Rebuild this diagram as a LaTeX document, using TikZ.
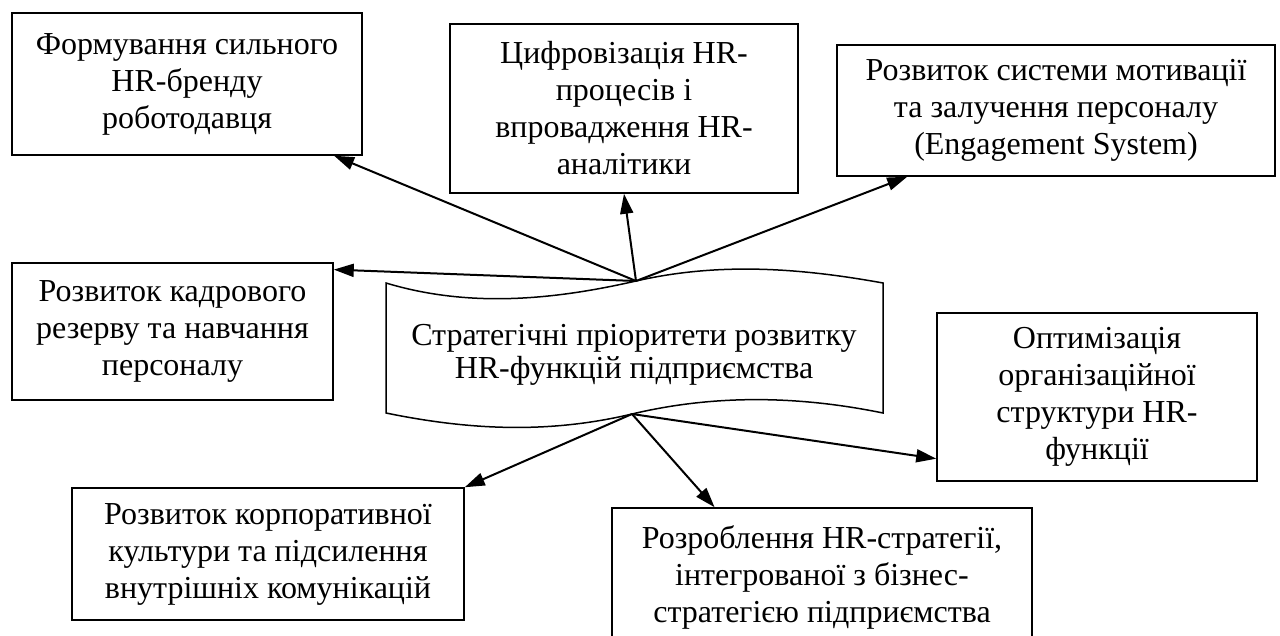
\documentclass[tikz,border=0pt]{standalone}
\usepackage{fontspec}
\setmainfont{Liberation Serif}
\usetikzlibrary{arrows.meta}

\begin{document}
\begin{tikzpicture}[x=1pt,y=-1pt]

\tikzset{prio/.style = {shape=rectangle,draw,line width=1.5pt,align=center,inner sep=0pt,font=\fontsize{32}{37}\selectfont}}
\tikzset{edge/.style = {-{Triangle[length=20pt,width=13pt]},line width=2pt}}
\useasboundingbox (0,0) rectangle (1280,635);
%centre
\draw[line width=1.5pt] (386,283) .. controls (469,308) and (553,300) .. (636,281) coordinate (ptop)
  .. controls (719,262) and (800,268) .. (883,283) -- (883,413)
  .. controls (800,396) and (716,394) .. (632,414) coordinate (pbot)
  .. controls (548,434) and (469,430) .. (386,413) -- cycle;
\node[align=center,font=\fontsize{32}{33}\selectfont] (prior) at (634,355) {Стратегічні пріоритети розвитку\\HR-функцій підприємства};
%priorities
\node[prio, minimum width=350pt, minimum height=142pt] (brand) at (187,84) {Формування сильного\\HR-бренду\\роботодавця};
\node[prio, minimum width=348pt, minimum height=169pt] (digital) at (624,108.5) {Цифровізація HR-\\процесів і\\впровадження HR-\\аналітики};
\node[prio, minimum width=438pt, minimum height=131pt] (motiv) at (1056,110.5) {Розвиток системи мотивації\\та залучення персоналу\\(Engagement System)};
\node[prio, minimum width=321pt, minimum height=137pt] (reserve) at (172.5,331.5) {Розвиток кадрового\\резерву та навчання\\персоналу};
\node[prio, minimum width=320pt, minimum height=168pt] (optim) at (1097,397) {Оптимізація\\організаційної\\структури HR-\\функції};
\node[prio, minimum width=392pt, minimum height=132pt] (culture) at (268,554) {Розвиток корпоративної\\культури та підсилення\\внутрішніх комунікацій};
\node[prio, minimum width=420pt, minimum height=138pt] (strat) at (822,577) {Розроблення HR-стратегії,\\інтегрованої з бізнес-\\стратегією підприємства};
%arrows
\draw[edge] (ptop) -- (brand.-26);
\draw[edge] (ptop) -- (digital.south);
\draw[edge] (ptop) -- (motiv.204);
\draw[edge] (ptop) -- (reserve.21);
\draw[edge] (pbot) -- (culture.north east);
\draw[edge] (pbot) -- (strat.147);
\draw[edge] (pbot) -- (optim.201);

\end{tikzpicture}
\end{document}
